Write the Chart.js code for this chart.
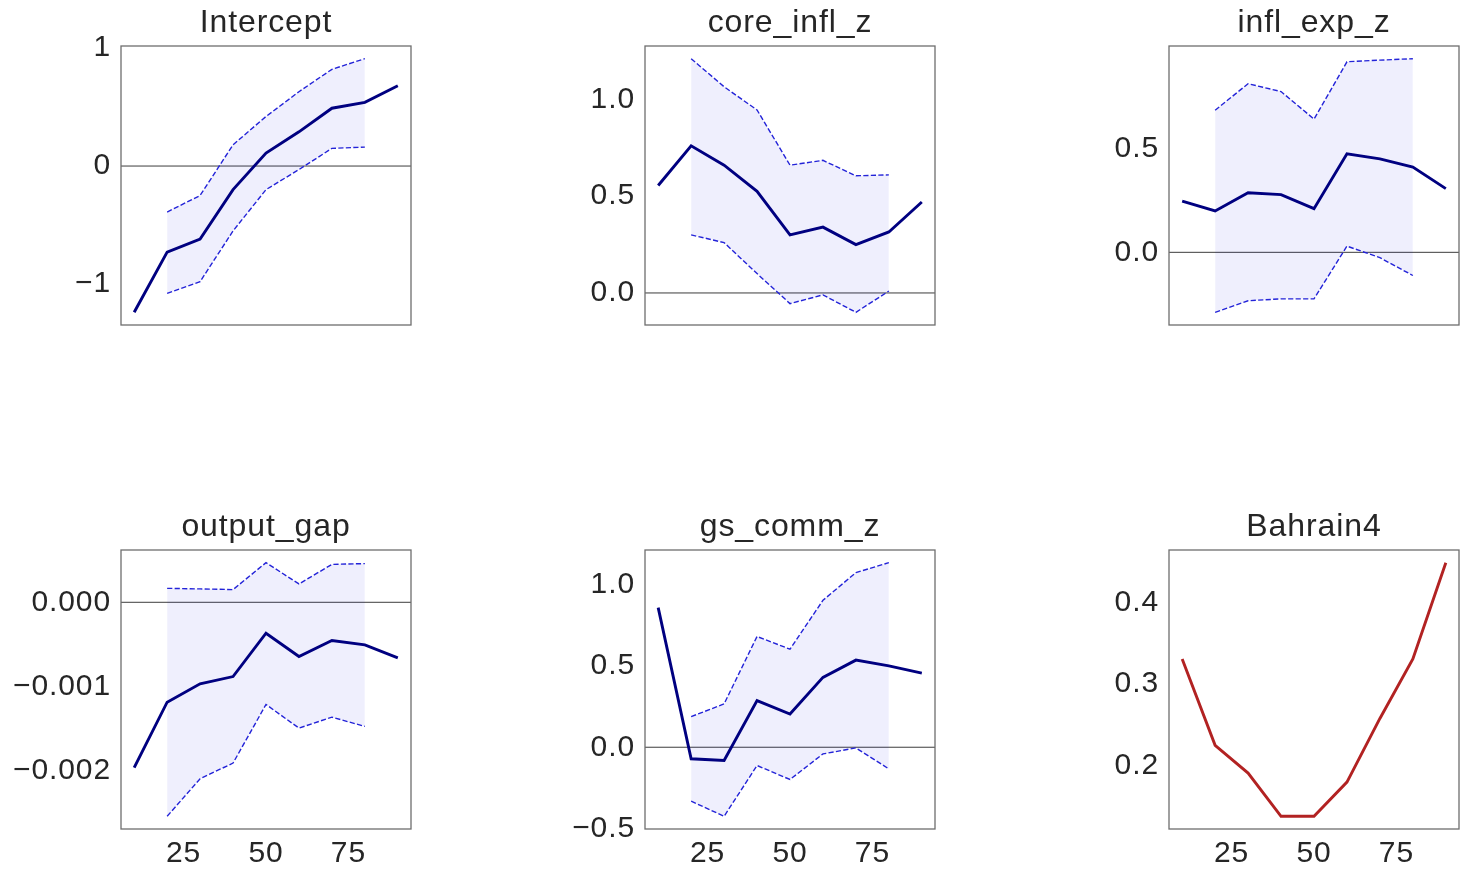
<!DOCTYPE html>
<html>
<head>
<meta charset="utf-8">
<script src="https://cdn.jsdelivr.net/npm/chart.js@4.4.1/dist/chart.umd.min.js"></script>
<style>
  html, body { margin: 0; padding: 0; background: #ffffff; overflow: hidden; }
  body { width: 1468px; height: 875px; position: relative; }
  canvas { position: absolute; }
</style>
</head>
<body>
<canvas id="c0" width="418" height="371"></canvas>
<canvas id="c1" width="418" height="371"></canvas>
<canvas id="c2" width="418" height="371"></canvas>
<canvas id="c3" width="418" height="371"></canvas>
<canvas id="c4" width="418" height="371"></canvas>
<canvas id="c5" width="418" height="371"></canvas>
<script>
// ---------- data ----------
const quantiles = [10, 20, 30, 40, 50, 60, 70, 80, 90];
const bandQuantiles = [20, 30, 40, 50, 60, 70, 80];
const xTicks = [25, 50, 75];

const titles = ['Intercept', 'core_infl_z', 'infl_exp_z', 'output_gap', 'gs_comm_z', 'Bahrain4'];

const interceptMedian = [-1.24, -0.73, -0.62, -0.20, 0.11, 0.29, 0.49, 0.54, 0.68];
const interceptUpper  = [-0.39, -0.25, 0.18, 0.42, 0.63, 0.82, 0.91];
const interceptLower  = [-1.08, -0.98, -0.55, -0.20, -0.03, 0.15, 0.16];
const interceptTicks = [-1, 0, 1];
const interceptTickLabels = ['\u22121', '0', '1'];

const coreInflMedian = [0.555, 0.76, 0.66, 0.525, 0.30, 0.34, 0.25, 0.315, 0.47];
const coreInflUpper  = [1.21, 1.065, 0.945, 0.66, 0.685, 0.605, 0.61];
const coreInflLower  = [0.30, 0.26, 0.10, -0.055, -0.01, -0.10, 0.01];
const coreInflTicks = [0, 0.5, 1.0];
const coreInflTickLabels = ['0.0', '0.5', '1.0'];

const inflExpMedian = [0.248, 0.20, 0.288, 0.279, 0.211, 0.476, 0.452, 0.412, 0.308];
const inflExpUpper  = [0.687, 0.815, 0.777, 0.644, 0.921, 0.929, 0.936];
const inflExpLower  = [-0.29, -0.234, -0.225, -0.225, 0.03, -0.026, -0.112];
const inflExpTicks = [0, 0.5];
const inflExpTickLabels = ['0.0', '0.5'];

const outputGapMedian = [-0.001967, -0.001188, -0.000969, -0.000883, -0.000368, -0.000645, -0.000455, -0.000506, -0.000661];
const outputGapUpper  = [0.000166, 0.000159, 0.000151, 0.000471, 0.000218, 0.000451, 0.000460];
const outputGapLower  = [-0.002545, -0.002098, -0.001912, -0.001215, -0.001496, -0.001366, -0.001476];
const outputGapTicks = [-0.002, -0.001, 0];
const outputGapTickLabels = ['\u22120.002', '\u22120.001', '0.000'];

const gsCommMedian = [0.857, -0.071, -0.081, 0.286, 0.204, 0.429, 0.535, 0.50, 0.455];
const gsCommUpper  = [0.188, 0.266, 0.68, 0.602, 0.902, 1.072, 1.133];
const gsCommLower  = [-0.331, -0.424, -0.112, -0.198, -0.041, -0.004, -0.133];
const gsCommTicks = [-0.5, 0, 0.5, 1.0];
const gsCommTickLabels = ['\u22120.5', '0.0', '0.5', '1.0'];

const bahrainValues = [0.331, 0.225, 0.191, 0.138, 0.138, 0.180, 0.258, 0.331, 0.449];
const bahrainTicks = [0.2, 0.3, 0.4];
const bahrainTickLabels = ['0.2', '0.3', '0.4'];

// ---------- styling / layout ----------
const FONT = "'Liberation Sans', Arial, sans-serif";
const TEXT = '#262626';
const boxLefts = [121, 645, 1169];
const boxTops = [46, 550];
const Y_AXIS_W = 120, X_AXIS_H = 46, PAD_RIGHT = 8;

const boxPlugin = {
  id: 'boxFrame',
  beforeUpdate(chart) { chart.ctx.letterSpacing = '0.9px'; },
  beforeDraw(chart) { chart.ctx.letterSpacing = '0.9px'; },
  afterDraw(chart) {
    const { ctx, chartArea: a } = chart;
    ctx.save();
    ctx.strokeStyle = '#6e6e6e';
    ctx.lineWidth = 1.3;
    ctx.strokeRect(a.left, a.top, a.right - a.left, a.bottom - a.top);
    ctx.restore();
  }
};

function pts(xs, ys) { return xs.map((x, i) => ({ x: x, y: ys[i] })); }

function makeChart(idx, spec) {
  const col = idx % 3, row = Math.floor(idx / 3);
  const canvas = document.getElementById('c' + idx);
  canvas.style.left = (boxLefts[col] - Y_AXIS_W) + 'px';
  canvas.style.top = (boxTops[row] - 46) + 'px';

  const allY = spec.median.concat(spec.upper || [], spec.lower || []);
  const lo = Math.min(...allY), hi = Math.max(...allY);
  const m = (hi - lo) * 0.05;
  const xMin = quantiles[0] - (quantiles[8] - quantiles[0]) * 0.05;
  const xMax = quantiles[8] + (quantiles[8] - quantiles[0]) * 0.05;

  const datasets = [{
    data: pts(quantiles, spec.median),
    borderColor: spec.color,
    borderWidth: 2.9,
    pointRadius: 0,
    fill: false,
    tension: 0
  }];
  if (spec.upper) {
    datasets.push({
      data: pts(bandQuantiles, spec.lower),
      borderColor: '#2323d8',
      borderWidth: 1.4,
      borderDash: [5.2, 2.3],
      pointRadius: 0,
      fill: false
    });
    datasets.push({
      data: pts(bandQuantiles, spec.upper),
      borderColor: '#2323d8',
      borderWidth: 1.4,
      borderDash: [5.2, 2.3],
      pointRadius: 0,
      backgroundColor: 'rgba(0, 0, 230, 0.062)',
      fill: '-1'
    });
    datasets.push({
      data: [{ x: xMin, y: 0 }, { x: xMax, y: 0 }],
      borderColor: '#3c3c3c',
      borderWidth: 1,
      pointRadius: 0,
      fill: false
    });
  }

  new Chart(canvas, {
    type: 'line',
    data: { datasets: datasets },
    plugins: [boxPlugin],
    options: {
      responsive: false,
      animation: false,
      devicePixelRatio: 1,
      layout: { padding: { left: 0, right: PAD_RIGHT, top: 0, bottom: 0 } },
      plugins: {
        legend: { display: false },
        tooltip: { enabled: false },
        title: {
          display: true,
          text: spec.title,
          fullSize: false,
          color: TEXT,
          font: { family: FONT, size: 32, weight: 'normal', lineHeight: 1.2 },
          padding: { top: 3.8, bottom: 3.8 }
        }
      },
      scales: {
        x: {
          type: 'linear',
          min: xMin,
          max: xMax,
          grid: { display: false, drawTicks: false },
          border: { display: false },
          afterBuildTicks: s => { s.ticks = xTicks.map(v => ({ value: v })); },
          afterFit: s => { s.height = X_AXIS_H; },
          ticks: {
            display: row === 1,
            color: TEXT,
            padding: 7,
            maxRotation: 0,
            autoSkip: false,
            font: { family: FONT, size: 30 },
            callback: v => String(v)
          }
        },
        y: {
          type: 'linear',
          min: lo - m,
          max: hi + m,
          grid: { display: false, drawTicks: false },
          border: { display: false },
          afterBuildTicks: s => { s.ticks = spec.ticks.map(v => ({ value: v })); },
          afterFit: s => { s.width = Y_AXIS_W; },
          ticks: {
            color: TEXT,
            padding: 10,
            autoSkip: false,
            font: { family: FONT, size: 30 },
            callback: (v, i) => spec.tickLabels[i]
          }
        }
      }
    }
  });
}

const NAVY = '#000080';
makeChart(0, { title: titles[0], median: interceptMedian, upper: interceptUpper, lower: interceptLower, ticks: interceptTicks, tickLabels: interceptTickLabels, color: NAVY });
makeChart(1, { title: titles[1], median: coreInflMedian, upper: coreInflUpper, lower: coreInflLower, ticks: coreInflTicks, tickLabels: coreInflTickLabels, color: NAVY });
makeChart(2, { title: titles[2], median: inflExpMedian, upper: inflExpUpper, lower: inflExpLower, ticks: inflExpTicks, tickLabels: inflExpTickLabels, color: NAVY });
makeChart(3, { title: titles[3], median: outputGapMedian, upper: outputGapUpper, lower: outputGapLower, ticks: outputGapTicks, tickLabels: outputGapTickLabels, color: NAVY });
makeChart(4, { title: titles[4], median: gsCommMedian, upper: gsCommUpper, lower: gsCommLower, ticks: gsCommTicks, tickLabels: gsCommTickLabels, color: NAVY });
makeChart(5, { title: titles[5], median: bahrainValues, ticks: bahrainTicks, tickLabels: bahrainTickLabels, color: '#b22222' });
</script>
</body>
</html>
